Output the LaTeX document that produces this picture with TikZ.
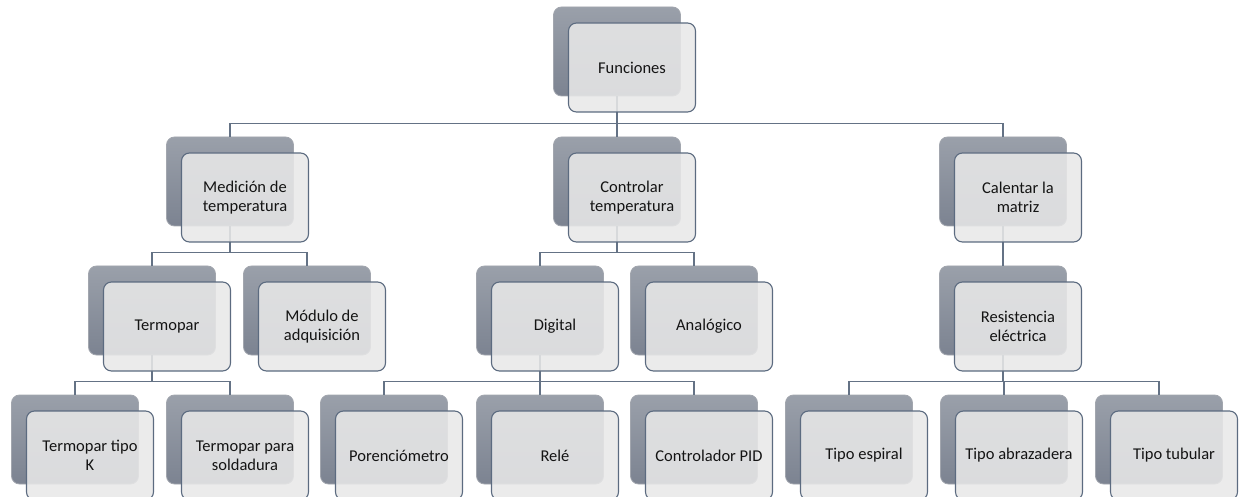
\documentclass[tikz,border=0pt]{standalone}
\usepackage{fontspec}
\setmainfont{Carlito}
\definecolor{backtop}{HTML}{9AA0AA}
\definecolor{backbot}{HTML}{7C8391}
\definecolor{backline}{HTML}{A2A6AE}
\definecolor{frontfill}{HTML}{E8E8E8}
\definecolor{frontline}{HTML}{5C6B80}
\definecolor{conn}{HTML}{647285}
\definecolor{txt}{HTML}{141414}
\tikzset{
  backbox/.style={draw=backline, line width=0.8pt, top color=backtop, bottom color=backbot,
    rounded corners=8pt, minimum width=127pt, minimum height=89pt, inner sep=0pt},
  frontbox/.style={draw=frontline, line width=1.1pt, fill=frontfill, fill opacity=0.88,
    text opacity=1, rounded corners=8pt, minimum width=127pt, minimum height=89pt,
    inner sep=2pt, align=center, text=txt,
    font=\fontsize{16.5}{19}\selectfont},
  connline/.style={draw=conn, line width=1.1pt},
}
\newcommand{\mkitem}[4]{%
  \node[backbox] (#1b) at (#2,#3+44.5) {};
}
\newcommand{\mkfront}[4]{%
  \node[frontbox] (#1) at (#2+15,#3+60.5) {#4};
}
\begin{document}
\begin{tikzpicture}[x=1pt,y=-1pt]
\useasboundingbox (0,0) rectangle (1240,497);
% back boxes
\mkitem{fun}{617}{7}{}
\mkitem{med}{230}{137}{}
\mkitem{con}{617}{137}{}
\mkitem{cal}{1003}{137}{}
\mkitem{ter}{152}{266}{}
\mkitem{mod}{307}{266}{}
\mkitem{dig}{540}{266}{}
\mkitem{ana}{694}{266}{}
\mkitem{res}{1003}{266}{}
\mkitem{tk}{75}{395}{}
\mkitem{ts}{230}{395}{}
\mkitem{por}{384}{395}{}
\mkitem{rel}{540}{395}{}
\mkitem{pid}{694}{395}{}
\mkitem{esp}{849}{395}{}
\mkitem{abr}{1004}{395}{}
\mkitem{tub}{1159}{395}{}
% connectors
\foreach \c/\p in {med/fun,con/fun,cal/fun,ter/med,mod/med,dig/con,ana/con,res/cal,
                   tk/ter,ts/ter,por/dig,rel/dig,pid/dig,esp/res,abr/res,tub/res}{
  \draw[connline] (\c b.north) -- ++(0,-13) -| (\p b.south);
}
% front boxes
\mkfront{fun}{617}{7}{Funciones}
\mkfront{med}{230}{137}{Medición de\\temperatura}
\mkfront{con}{617}{137}{Controlar\\temperatura}
\mkfront{cal}{1003}{137}{Calentar la\\matriz}
\mkfront{ter}{152}{266}{Termopar}
\mkfront{mod}{307}{266}{Módulo de\\adquisición}
\mkfront{dig}{540}{266}{Digital}
\mkfront{ana}{694}{266}{Analógico}
\mkfront{res}{1003}{266}{Resistencia\\eléctrica}
\mkfront{tk}{75}{395}{Termopar tipo\\K}
\mkfront{ts}{230}{395}{Termopar para\\soldadura}
\mkfront{por}{384}{395}{Porenciómetro}
\mkfront{rel}{540}{395}{Relé}
\mkfront{pid}{694}{395}{Controlador PID}
\mkfront{esp}{849}{395}{Tipo espiral}
\mkfront{abr}{1004}{395}{Tipo abrazadera}
\mkfront{tub}{1159}{395}{Tipo tubular}
\end{tikzpicture}
\end{document}
